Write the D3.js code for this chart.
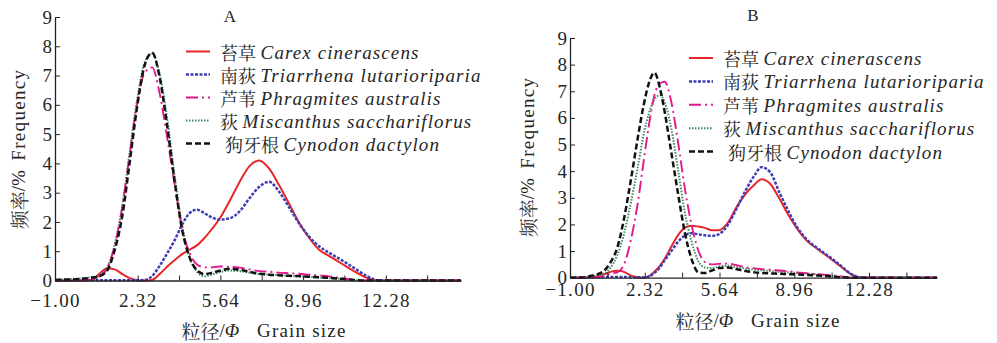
<!DOCTYPE html>
<html>
<head>
<meta charset="utf-8">
<script src="https://cdn.jsdelivr.net/npm/d3@7"></script>
<style>
  html, body { margin: 0; padding: 0; background: #fff; }
  svg { display: block; }
  text, tspan { font-family: "Liberation Serif", "DejaVu Serif", serif; fill: #262626; }
</style>
</head>
<body>
<svg id="chart" width="997" height="343"></svg>
<script>
// ---------------- DATA ----------------
const panelTitles = ["A", "B"];
const speciesCN = ["苔草", "南荻", "芦苇", "荻", "狗牙根"];
const speciesLatin = ["Carex cinerascens", "Triarrhena lutarioriparia", "Phragmites australis", "Miscanthus sacchariflorus", "Cynodon dactylon"];
const yTickValues = [0, 1, 2, 3, 4, 5, 6, 7, 8, 9];
const xTickValues = [-1.00, 0.66, 2.32, 3.98, 5.64, 7.30, 8.96, 10.62, 12.28, 13.94];
const xTickLabels = ["-1.00", "2.32", "5.64", "8.96", "12.28"];

// Panel A (grain size in phi, frequency in %)
const phiA = [-1, -0.5, 0, 0.5, 0.8, 1.1, 1.4, 1.7, 2.0, 2.3, 2.6, 2.9, 3.2, 3.5, 3.8, 4.1, 4.4, 4.7, 5.0, 5.3, 5.6, 6.0, 6.4, 6.8, 7.2, 7.6, 8.0, 8.4, 8.8, 9.2, 9.6, 10.0, 10.5, 11.0, 11.5, 12.0, 12.5, 13.0, 14.0, 15.3];
const carexA      = [0, 0, 0, 0.03, 0.25, 0.42, 0.38, 0.22, 0.08, 0.01, 0, 0.02, 0.22, 0.47, 0.69, 0.9, 1.05, 1.2, 1.45, 1.76, 2.1, 2.7, 3.35, 3.9, 4.1, 3.82, 3.25, 2.62, 1.97, 1.46, 1.05, 0.84, 0.58, 0.32, 0.1, 0, 0, 0, 0, 0];
const triarrhenaA = [0, 0, 0.01, 0.01, 0.01, 0.01, 0.01, 0.01, 0.01, 0.01, 0.02, 0.15, 0.5, 0.92, 1.37, 1.9, 2.3, 2.42, 2.3, 2.15, 2.08, 2.12, 2.35, 2.8, 3.2, 3.37, 3.03, 2.5, 1.95, 1.5, 1.17, 0.95, 0.7, 0.43, 0.16, 0, 0, 0, 0, 0];
const phragmitesA = [0, 0, 0, 0.03, 0.15, 0.42, 1.2, 2.5, 4.3, 6.05, 7.1, 7.28, 6.4, 4.9, 3.3, 1.8, 0.95, 0.55, 0.45, 0.45, 0.48, 0.47, 0.44, 0.38, 0.32, 0.3, 0.27, 0.25, 0.23, 0.2, 0.17, 0.14, 0.08, 0.02, 0, 0, 0, 0, 0, 0];
const miscanthusA = [0.04, 0.05, 0.07, 0.12, 0.2, 0.45, 1.25, 2.55, 4.4, 6.2, 7.45, 7.75, 7.05, 5.55, 3.6, 1.9, 0.8, 0.3, 0.14, 0.2, 0.28, 0.34, 0.32, 0.27, 0.22, 0.2, 0.18, 0.16, 0.14, 0.12, 0.1, 0.08, 0.05, 0.02, 0, 0, 0, 0, 0, 0];
const cynodonA    = [0.02, 0.03, 0.05, 0.1, 0.15, 0.35, 1.05, 2.2, 4.05, 5.95, 7.35, 7.78, 6.95, 5.3, 3.4, 1.75, 0.8, 0.35, 0.22, 0.26, 0.33, 0.4, 0.37, 0.3, 0.23, 0.2, 0.18, 0.16, 0.15, 0.13, 0.11, 0.09, 0.06, 0.02, 0, 0, 0, 0, 0, 0];

// Panel B
const phiB = [-1, -0.5, 0, 0.5, 0.8, 1.1, 1.4, 1.7, 2.0, 2.3, 2.5, 2.75, 3.0, 3.2, 3.5, 3.8, 4.1, 4.4, 4.7, 5.0, 5.3, 5.6, 6.0, 6.4, 6.8, 7.2, 7.5, 7.9, 8.3, 8.7, 9.1, 9.5, 10.0, 10.5, 11.0, 11.5, 12.0, 13.0, 14.0, 15.3];
const carexB      = [0, 0, 0.02, 0.12, 0.22, 0.26, 0.22, 0.08, 0.02, 0, 0.05, 0.22, 0.45, 0.7, 1.17, 1.6, 1.88, 1.95, 1.92, 1.87, 1.78, 1.78, 2.05, 2.65, 3.15, 3.5, 3.7, 3.52, 2.97, 2.35, 1.82, 1.4, 1.07, 0.76, 0.44, 0.12, 0, 0, 0, 0];
const triarrhenaB = [0, 0, 0.01, 0.02, 0.03, 0.03, 0.03, 0.02, 0.02, 0.01, 0.05, 0.18, 0.4, 0.65, 1.0, 1.35, 1.58, 1.67, 1.63, 1.59, 1.57, 1.63, 1.97, 2.6, 3.28, 3.85, 4.15, 3.95, 3.2, 2.5, 1.88, 1.45, 1.1, 0.8, 0.47, 0.13, 0, 0, 0, 0];
const phragmitesB = [0, 0, 0.01, 0.05, 0.15, 0.2, 0.5, 1.4, 2.75, 4.55, 5.7, 6.85, 7.3, 7.36, 6.6, 5.08, 3.36, 1.98, 1.02, 0.58, 0.5, 0.52, 0.53, 0.47, 0.39, 0.35, 0.32, 0.3, 0.27, 0.24, 0.2, 0.17, 0.13, 0.1, 0.06, 0, 0, 0, 0, 0];
const miscanthusB = [0, 0.01, 0.05, 0.15, 0.38, 0.85, 1.65, 2.8, 4.1, 5.5, 6.15, 6.7, 6.85, 6.6, 5.6, 4.05, 2.45, 1.35, 0.62, 0.38, 0.36, 0.42, 0.45, 0.4, 0.34, 0.3, 0.28, 0.25, 0.22, 0.2, 0.18, 0.15, 0.12, 0.08, 0.03, 0, 0, 0, 0, 0];
const cynodonB    = [0, 0.01, 0.08, 0.25, 0.58, 1.13, 2.22, 3.65, 5.2, 6.6, 7.3, 7.7, 7.1, 6.25, 4.7, 3.15, 1.7, 0.7, 0.2, 0.18, 0.27, 0.36, 0.38, 0.32, 0.25, 0.2, 0.18, 0.16, 0.15, 0.13, 0.12, 0.1, 0.08, 0.05, 0.02, 0, 0, 0, 0, 0];

// ---------------- STYLE / LAYOUT ----------------
const SERIF = '"Liberation Serif", "DejaVu Serif", serif';
const CJK = '"Noto Serif CJK SC", "Noto Sans CJK SC", serif';
const seriesStyles = [
  { color: "#e8262a", width: 2.0, dash: null },
  { color: "#3c3cb4", width: 2.5, dash: "3,1.5" },
  { color: "#e3178c", width: 1.9, dash: "12,4,2,4" },
  { color: "#3a8a5c", width: 2.0, dash: "1.5,1.5" },
  { color: "#111111", width: 2.5, dash: "6,3" }
];
const drawOrder = [0, 1, 3, 2, 4];

const panels = [
  { title: panelTitles[0], phi: phiA, series: [carexA, triarrhenaA, phragmitesA, miscanthusA, cynodonA],
    xr: [55, 461], yr: [280.5, 17], titleX: 230, titleY: 22,
    tickPad: 13, yLabel: [18, 149], xLabel: [264, 330],
    legX: 186, legY: 51.5, legStep: 23 },
  { title: panelTitles[1], phi: phiB, series: [carexB, triarrhenaB, phragmitesB, miscanthusB, cynodonB],
    xr: [570, 937], yr: [277.7, 38], titleX: 753, titleY: 21,
    tickPad: 5, yLabel: [527, 157], xLabel: [758, 320],
    legX: 689, legY: 58, legStep: 23.4 }
];

const svg = d3.select("#chart");
const fs = 19;

panels.forEach(p => {
  const x = d3.scaleLinear().domain([-1, 15.3]).range(p.xr);
  const y = d3.scaleLinear().domain([0, 9]).range(p.yr);
  const g = svg.append("g");

  // curves
  drawOrder.forEach(si => {
    const st = seriesStyles[si];
    const vals = p.series[si];
    const line = d3.line()
      .x((d, i) => x(p.phi[i]))
      .y(d => y(d))
      .curve(d3.curveMonotoneX);
    g.append("path")
      .datum(vals)
      .attr("d", line)
      .attr("fill", "none")
      .attr("stroke", st.color)
      .attr("stroke-width", st.width)
      .attr("stroke-dasharray", st.dash)
      .attr("stroke-linejoin", "round");
  });

  // x axis
  const xAxis = d3.axisBottom(x)
    .tickValues(xTickValues)
    .tickSizeInner(-5).tickSizeOuter(0)
    .tickPadding(p.tickPad)
    .tickFormat(d => {
      const lab = xTickLabels.find(l => Math.abs(parseFloat(l) - d) < 1e-6);
      return lab ? lab.replace("-", "\u2212") : "";
    });
  const gx = g.append("g").attr("transform", `translate(0,${p.yr[0]})`).call(xAxis);
  gx.attr("font-family", null);
  gx.select(".domain").attr("stroke", "#222").attr("stroke-width", 1.3);
  gx.selectAll(".tick line").attr("stroke", "#222").attr("stroke-width", 1);
  gx.selectAll("text").style("font-family", SERIF).style("font-size", fs + "px")
    .style("letter-spacing", "1.3px").style("fill", "#262626");

  // y axis
  const yAxis = d3.axisLeft(y)
    .tickValues(yTickValues)
    .tickSizeInner(-5).tickSizeOuter(0)
    .tickPadding(3)
    .tickFormat(d3.format("d"));
  const gy = g.append("g").attr("transform", `translate(${p.xr[0]},0)`).call(yAxis);
  gy.attr("font-family", null);
  gy.select(".domain").attr("stroke", "#222").attr("stroke-width", 1.3);
  gy.selectAll(".tick line").attr("stroke", "#222").attr("stroke-width", 1);
  gy.selectAll("text").style("font-family", SERIF).style("font-size", fs + "px").style("fill", "#262626");

  // title
  g.append("text").attr("x", p.titleX).attr("y", p.titleY)
    .attr("text-anchor", "middle").style("font-family", SERIF).style("font-size", "17px").text(p.title);

  // y label
  const yl = g.append("text")
    .attr("transform", `translate(${p.yLabel[0]},${p.yLabel[1]}) rotate(-90)`)
    .attr("text-anchor", "middle").attr("dominant-baseline", "central")
    .style("font-family", SERIF).style("font-size", fs + "px");
  yl.append("tspan").style("font-family", CJK).text("频率");
  yl.append("tspan").style("font-family", SERIF).text("/%\u00a0\u00a0");
  yl.append("tspan").style("font-family", SERIF).style("letter-spacing", "1.3px").text("Frequency");

  // x label
  const xl = g.append("text")
    .attr("x", p.xLabel[0]).attr("y", p.xLabel[1])
    .attr("text-anchor", "middle").attr("dominant-baseline", "central")
    .style("font-family", SERIF).style("font-size", fs + "px");
  xl.append("tspan").style("font-family", CJK).text("粒径");
  xl.append("tspan").style("font-family", SERIF).text("/");
  xl.append("tspan").style("font-family", SERIF).style("font-style", "italic").text("Φ");
  xl.append("tspan").style("font-family", SERIF).style("letter-spacing", "1.2px").text("\u00a0\u00a0\u00a0Grain size");

  // legend
  speciesCN.forEach((cn, i) => {
    const st = seriesStyles[i];
    const ly = p.legY + i * p.legStep;
    g.append("line")
      .attr("x1", p.legX).attr("x2", p.legX + 24)
      .attr("y1", ly).attr("y2", ly)
      .attr("stroke", st.color).attr("stroke-width", st.width)
      .attr("stroke-dasharray", st.dash);
    const t = g.append("text")
      .attr("x", p.legX + 34 + (i === 4 ? 5 : 0)).attr("y", ly)
      .attr("dominant-baseline", "central")
      .style("font-family", SERIF).style("font-size", "18px");
    t.append("tspan").style("font-family", CJK).text(cn + "\u00a0");
    t.append("tspan").style("font-family", SERIF).style("font-style", "italic").style("letter-spacing", "1.1px")
      .style("font-size", "19px").text(speciesLatin[i]);
  });
});
</script>
</body>
</html>
